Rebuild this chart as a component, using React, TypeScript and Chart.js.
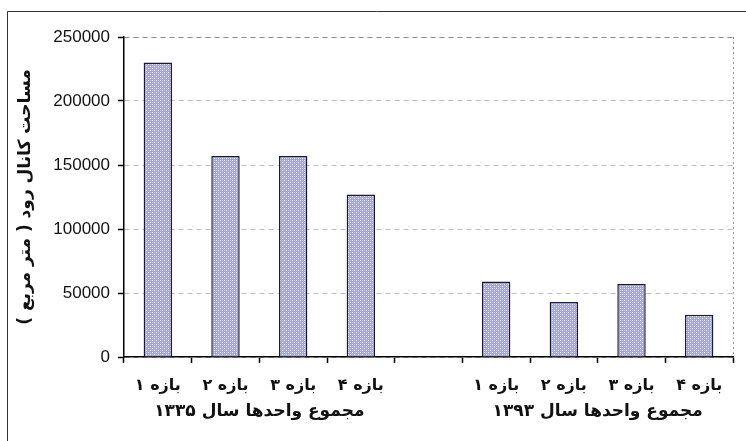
import React, { useEffect, useRef } from "react";
import { Chart, registerables } from "chart.js";

Chart.register(...registerables);

const categories = ["بازه ۱", "بازه ۲", "بازه ۳", "بازه ۴", "", "بازه ۱", "بازه ۲", "بازه ۳", "بازه ۴"];
const areaValues = [230000, 157000, 157000, 127000, null, 59000, 43000, 57000, 33000];
const groupLabels = ["مجموع واحدها سال ۱۳۳۵", "مجموع واحدها سال ۱۳۹۳"];
const groupRanges = [[0, 3], [5, 8]];
const yTitle = "مساحت کانال رود ( متر مربع )";
const yMax = 250000;
const yStep = 50000;

function makePattern(): CanvasPattern | string {
  const c = document.createElement("canvas");
  c.width = 4;
  c.height = 4;
  const g = c.getContext("2d");
  if (!g) return "#aaaaf0";
  g.fillStyle = "#a0a0fa";
  g.fillRect(0, 0, 4, 4);
  g.fillStyle = "#ececff";
  g.fillRect(0, 0, 1, 1);
  g.fillRect(2, 2, 1, 1);
  g.fillStyle = "#c8c8ff";
  g.fillRect(2, 0, 1, 1);
  g.fillRect(0, 2, 1, 1);
  const p = g.createPattern(c, "repeat");
  return p || "#aaaaf0";
}

export default function App() {
  const ref = useRef<HTMLCanvasElement | null>(null);

  useEffect(() => {
    document.body.style.margin = "0";
    const canvas = ref.current;
    if (!canvas) return;

    const decor = {
      id: "decor",
      beforeDraw(chart: any) {
        const ctx = chart.ctx;
        ctx.save();
        ctx.strokeStyle = "#333";
        ctx.lineWidth = 1;
        ctx.beginPath();
        ctx.moveTo(7.5, 441);
        ctx.lineTo(7.5, 11.5);
        ctx.lineTo(746, 11.5);
        ctx.stroke();
        ctx.restore();
      },
      afterDraw(chart: any) {
        const ctx = chart.ctx;
        const { top, bottom, right } = chart.chartArea;
        ctx.save();
        ctx.strokeStyle = "#999";
        ctx.lineWidth = 1;
        ctx.setLineDash([2, 3]);
        ctx.beginPath();
        ctx.moveTo(Math.round(right) + 0.5, top);
        ctx.lineTo(Math.round(right) + 0.5, bottom);
        ctx.stroke();
        ctx.setLineDash([]);
        const xs = chart.scales.x;
        ctx.fillStyle = "#111";
        ctx.font = "bold 17px 'DejaVu Sans'";
        ctx.textAlign = "center";
        ctx.textBaseline = "middle";
        (ctx as any).direction = "rtl";
        groupLabels.forEach((lab, i) => {
          const [a, b] = groupRanges[i];
          const cx = (xs.getPixelForValue(a) + xs.getPixelForValue(b)) / 2;
          ctx.fillText(lab, cx, 412);
        });
        ctx.restore();
      },
    };

    const chart = new Chart(canvas, {
      type: "bar",
      data: {
        labels: categories,
        datasets: [
          {
            data: areaValues as any,
            backgroundColor: makePattern() as any,
            borderColor: "#1a1a3a",
            borderWidth: 1.5,
            barPercentage: 0.42,
            categoryPercentage: 1,
          },
        ],
      },
      options: {
        responsive: false,
        animation: false,
        layout: { padding: { left: 0, top: 37, right: 13, bottom: 0 } },
        plugins: { legend: { display: false }, tooltip: { enabled: false } },
        scales: {
          x: {
            afterFit(scale: any) {
              scale.height = 84;
            },
            grid: {
              offset: true,
              drawOnChartArea: false,
              drawTicks: true,
              tickLength: 6,
              tickColor: "#000",
              tickWidth: 1.5,
            },
            border: { display: true, color: "#000", width: 1.5 },
            ticks: {
              color: "#111",
              padding: 13,
              maxRotation: 0,
              autoSkip: false,
              font: { family: "'DejaVu Sans'", size: 16, weight: "bold" },
            },
          },
          y: {
            min: 0,
            max: yMax,
            afterFit(scale: any) {
              scale.width = 124;
            },
            grid: {
              color: (c: any) => (c.tick && c.tick.value === yMax ? "#888" : "#bdbdbd"),
              lineWidth: 1,
              tickLength: 6,
              tickColor: "#000",
              tickWidth: 1.5,
              tickBorderDash: [],
            },
            border: { display: true, color: "#000", width: 1.5, dash: [5, 4] },
            ticks: {
              stepSize: yStep,
              color: "#111",
              padding: 8,
              callback: (v: any) => String(v),
              font: { family: "'Liberation Sans'", size: 17 },
            },
            title: {
              display: true,
              text: yTitle,
              color: "#111",
              padding: { top: 15, bottom: 0 },
              font: { family: "'DejaVu Sans'", size: 17, weight: "bold" },
            },
          },
        },
      },
      plugins: [decor],
    });

    return () => chart.destroy();
  }, []);

  return (
    <canvas
      ref={ref}
      width={746}
      height={441}
      dir="rtl"
      style={{ display: "block", width: 746, height: 441, direction: "rtl" }}
    />
  );
}
